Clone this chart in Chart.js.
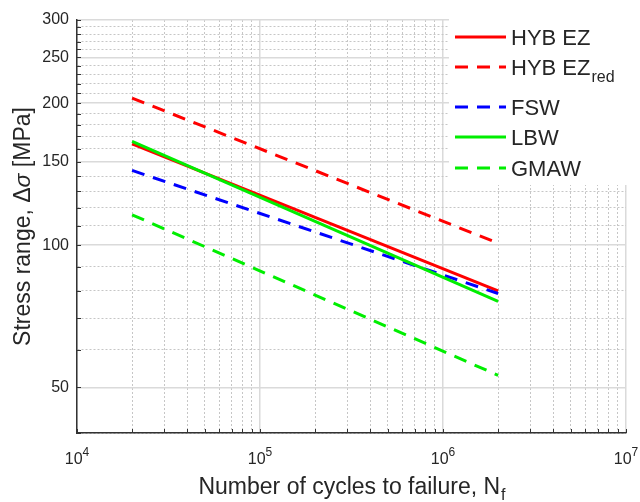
<!DOCTYPE html>
<html>
<head>
<meta charset="utf-8">
<script src="https://cdn.jsdelivr.net/npm/chart.js@4.4.0/dist/chart.umd.min.js"></script>
<style>
html,body{margin:0;padding:0;background:#fff;}
#wrap{position:relative;width:640px;height:502px;}
</style>
</head>
<body>
<div id="wrap"><canvas id="sn-chart" width="640" height="502"></canvas></div>
<script>
// S-N design curves, log-log axes

// cycle range of every curve (start, end)
const cycles = [2e4, 2e6];
// stress range [MPa] at start / end of each curve
const hybEz    = [164, 80];
const hybEzRed = [205, 101];
const fsw      = [144, 79];
const lbw      = [166, 76];
const gmaw     = [116, 53];

const seriesNames = ['HYB EZ', 'HYB EZ', 'FSW', 'LBW', 'GMAW'];
const seriesSubs  = ['', 'red', '', '', ''];

const xMajor  = [1e4, 1e5, 1e6, 1e7];
const xExp    = ['4', '5', '6', '7'];   // labels are 10^exp
const yMajor  = [50, 100, 150, 200, 250, 300];
const yLabels = ['50', '100', '150', '200', '250', '300'];
const yMinor  = [40, 60, 70, 80, 90, 110, 120, 130, 140, 160, 170, 180, 190, 210, 220, 230, 240, 260, 270, 280, 290];

const FONT = '"Liberation Sans", Arial, sans-serif';
const TXT = '#262626';

// minor x grid: 2..9 per decade
const xAll = [];
for(let d=1e4; d<1e7; d*=10){ for(let k=1;k<10;k++) xAll.push(d*k); }
xAll.push(1e7);
const yAll = yMinor.concat(yMajor).sort((a,b)=>a-b);

const isXMajor = v => xMajor.some(m=>Math.abs(m-v)/m < 1e-6);
const isYMajor = v => yMajor.includes(v);

function pts(vals){ return cycles.map((c,i)=>({x:c, y:vals[i]})); }

const dash = [13, 9];
const series = [
  {data: hybEz,    color: '#ff0000', dashed: false},
  {data: hybEzRed, color: '#ff0000', dashed: true},
  {data: fsw,      color: '#0000ff', dashed: true},
  {data: lbw,      color: '#00ee00', dashed: false},
  {data: gmaw,     color: '#00ee00', dashed: true}
];

const datasets = series.map((s,i)=>({
  label: seriesNames[i] + seriesSubs[i],
  data: pts(s.data),
  borderColor: s.color,
  borderWidth: 3,
  borderDash: s.dashed ? dash : [],
  pointRadius: 0,
  fill: false,
  tension: 0,
  order: series.length - i
}));

// titles, x tick labels, legend and inward tick marks
const decorPlugin = {
  id: 'decor',
  afterDraw(chart){
    const ctx = chart.ctx;
    const a = chart.chartArea;
    const xs = chart.scales.x, ys = chart.scales.y;
    ctx.save();

    // inward ticks
    ctx.strokeStyle = '#333';
    ctx.lineWidth = 1;
    ctx.beginPath();
    xAll.forEach(v=>{ const px = Math.round(xs.getPixelForValue(v))+0.5; ctx.moveTo(px, a.bottom); ctx.lineTo(px, a.bottom-4); });
    yAll.forEach(v=>{ const py = Math.round(ys.getPixelForValue(v))+0.5; ctx.moveTo(a.left, py); ctx.lineTo(a.left+4, py); });
    ctx.stroke();

    ctx.fillStyle = TXT;
    ctx.textBaseline = 'alphabetic';

    // x tick labels 10^n
    xMajor.forEach((v,i)=>{
      ctx.font = '16px ' + FONT; const wb = ctx.measureText('10').width;
      ctx.font = '12px ' + FONT; const we = ctx.measureText(xExp[i]).width;
      const x0 = xs.getPixelForValue(v) - (wb+we)/2;
      ctx.font = '16px ' + FONT; ctx.fillText('10', x0, 464);
      ctx.font = '12px ' + FONT; ctx.fillText(xExp[i], x0 + wb, 456);
    });

    // x title with subscript
    const xt = 'Number of cycles to failure, N';
    ctx.font = '23px ' + FONT; const w1 = ctx.measureText(xt).width;
    ctx.font = '16px ' + FONT; const w2 = ctx.measureText('f').width;
    let x0 = (a.left + a.right)/2 - (w1+w2)/2;
    ctx.font = '23px ' + FONT; ctx.fillText(xt, x0, 494);
    ctx.font = '16px ' + FONT; ctx.fillText('f', x0 + w1 + 1, 500);

    // y title, rotated, sigma in italic
    const parts = [['Stress range, \u0394', ''], ['\u03c3', 'italic '], [' [MPa]', '']];
    let tot = 0;
    parts.forEach(p=>{ ctx.font = p[1] + '23px ' + FONT; p.w = ctx.measureText(p[0]).width; tot += p.w; });
    ctx.save();
    ctx.translate(30, (a.top + a.bottom)/2);
    ctx.rotate(-Math.PI/2);
    let px = -tot/2;
    parts.forEach(p=>{ ctx.font = p[1] + '23px ' + FONT; ctx.fillText(p[0], px, 0); px += p.w; });
    ctx.restore();

    // legend box
    ctx.fillStyle = '#ffffff';
    ctx.fillRect(449, 14, 180, 171);
    const rowY = [37, 67, 107, 137, 168];
    chart.data.datasets.forEach((ds,i)=>{
      const y = rowY[i];
      ctx.strokeStyle = ds.borderColor;
      ctx.lineWidth = 3;
      ctx.setLineDash(ds.borderDash);
      ctx.beginPath(); ctx.moveTo(455, y); ctx.lineTo(506, y); ctx.stroke();
      ctx.setLineDash([]);
      ctx.fillStyle = TXT;
      ctx.font = '22px ' + FONT;
      ctx.fillText(seriesNames[i], 511, y + 8);
      if(seriesSubs[i]){
        const w = ctx.measureText(seriesNames[i]).width;
        ctx.font = '16px ' + FONT;
        ctx.fillText(seriesSubs[i], 511 + w + 1, y + 15);
      }
    });
    ctx.restore();
  }
};

const chart = new Chart(document.getElementById('sn-chart').getContext('2d'), {
  type: 'line',
  data: { datasets },
  options: {
    responsive: false,
    animation: false,
    devicePixelRatio: 1,
    layout: { padding: { top: 20, right: 14, left: 0, bottom: 0 } },
    plugins: { legend: { display: false }, tooltip: { enabled: false } },
    scales: {
      x: {
        type: 'logarithmic',
        min: 1e4, max: 1e7,
        afterBuildTicks: s => { s.ticks = xAll.map(v=>({value: v, major: isXMajor(v)})); },
        afterFit: s => { s.height = 69; },
        ticks: { autoSkip: false, maxRotation: 0, callback: () => '' },
        grid: {
          drawTicks: false,
          color: c => (c.tick && isXMajor(c.tick.value)) ? '#dadada' : '#c6c6c6',
          lineWidth: c => (c.tick && isXMajor(c.tick.value)) ? 1.5 : 1
        },
        border: { color: '#333', width: 1.5, dash: c => (c.tick && !isXMajor(c.tick.value)) ? [2, 2] : [] }
      },
      y: {
        type: 'logarithmic',
        min: 40, max: 300,
        afterBuildTicks: s => { s.ticks = yAll.map(v=>({value: v, major: isYMajor(v)})); },
        afterFit: s => { s.width = 77; },
        ticks: {
          autoSkip: false, padding: 8,
          color: TXT, font: { family: FONT, size: 16 },
          callback: v => { const i = yMajor.indexOf(v); return i>=0 ? yLabels[i] : ''; }
        },
        grid: {
          drawTicks: false,
          color: c => (c.tick && isYMajor(c.tick.value)) ? '#dadada' : '#c6c6c6',
          lineWidth: c => (c.tick && isYMajor(c.tick.value)) ? 1.5 : 1
        },
        border: { color: '#333', width: 1.5, dash: c => (c.tick && !isYMajor(c.tick.value)) ? [2, 2] : [] }
      }
    }
  },
  plugins: [decorPlugin]
});
</script>
</body>
</html>
